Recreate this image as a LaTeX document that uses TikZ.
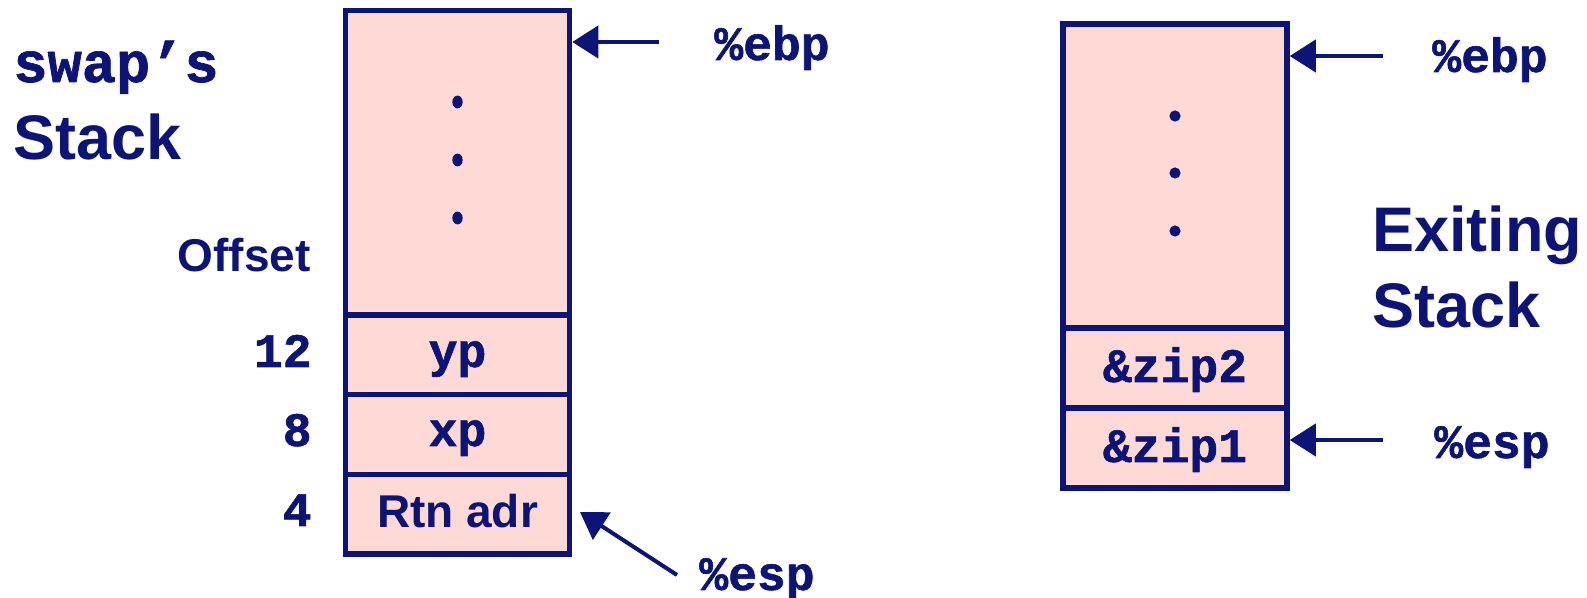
\documentclass[tikz,border=0pt]{standalone}
\usepackage{fontspec}
\setmainfont{Liberation Sans}
\setmonofont{Liberation Mono}[BoldFeatures={FakeBold=1.2}]
\usetikzlibrary{arrows.meta}
\definecolor{navy}{RGB}{12,20,120}
\definecolor{stackpink}{RGB}{255,217,214}
\tikzset{
  cell/.style={draw=navy, fill=stackpink, line width=2.75pt, minimum width=112pt, inner sep=0pt},
  mono/.style={text=navy, font=\ttfamily\bfseries\fontsize{24pt}{24pt}\selectfont, inner sep=0pt},
  monobig/.style={text=navy, font=\ttfamily\bfseries\fontsize{28.5pt}{28.5pt}\selectfont, inner sep=0pt},
  sans/.style={text=navy, font=\bfseries\fontsize{23pt}{23pt}\selectfont, inner sep=0pt},
  title/.style={text=navy, font=\bfseries\fontsize{31.5pt}{31.5pt}\selectfont, inner sep=0pt},
  arr/.style={draw=navy, line width=2pt, -{Triangle[length=13pt,width=16pt]}},
  dot/.style={fill=navy}
}
\begin{document}
\begin{tikzpicture}[x=0.5pt,y=-0.5pt]
\useasboundingbox (0,0) rectangle (1587,598);
% left stack
\node[cell, minimum height=152.15pt] (topL) at (457.5,162.85) {};
\node[cell, minimum height=39.85pt] (yp) at (457.5,354.85) {};
\node[cell, minimum height=39.85pt] (xp) at (457.5,434.55) {};
\node[cell, minimum height=39.85pt] (rtn) at (457.5,514.25) {};
\fill[dot] (457.5,102) ellipse (2.6pt and 3.2pt);
\fill[dot] (457.5,160) ellipse (2.6pt and 3.2pt);
\fill[dot] (457.5,218) ellipse (2.6pt and 3.2pt);
\node[mono, anchor=base] (ypt) at (457.5,367) {yp};
\node[mono, anchor=base] (xpt) at (457.5,446) {xp};
\node[sans, anchor=base] (rtnt) at (457.5,528) {Rtn adr};
% left labels
\node[monobig, anchor=base west] (swap) at (13,82) {swap’s};
\node[title, anchor=base west] (stackL) at (13,160) {Stack};
\node[sans, anchor=base east] (offset) at (311,272) {Offset};
\node[mono, anchor=base east] (o12) at (312,367) {12};
\node[mono, anchor=base east] (o8) at (312,446) {8};
\node[mono, anchor=base east] (o4) at (312,526) {4};
% left pointers
\node[mono, anchor=base] (ebpL) at (772,60) {\%ebp};
\node[mono, anchor=base] (espL) at (757,590) {\%esp};
\coordinate (ebpLs) at (659,42);
\draw[arr] (ebpLs) -- (topL.east |- ebpLs);
\coordinate (espLs) at (677,575);
\coordinate (espLe) at (580,512);
\draw[arr] (espLs) -- (espLe);
% right stack
\node[cell, minimum height=152pt] (topR) at (1175,176) {};
\node[cell, minimum height=40pt] (zip2) at (1175,368) {};
\node[cell, minimum height=40pt] (zip1) at (1175,448) {};
\fill[dot] (1175,116) circle (2.8pt);
\fill[dot] (1175,173) circle (2.8pt);
\fill[dot] (1175,231) circle (2.8pt);
\node[mono, anchor=base] (zip2t) at (1175,382) {\&zip2};
\node[mono, anchor=base] (zip1t) at (1175,462) {\&zip1};
\node[title, anchor=base west] (exiting) at (1372,252) {Exiting};
\node[title, anchor=base west] (stackR) at (1372,328) {Stack};
\node[mono, anchor=base] (ebpR) at (1490,72) {\%ebp};
\node[mono, anchor=base] (espR) at (1492,458) {\%esp};
\coordinate (ebpRs) at (1383,56);
\draw[arr] (ebpRs) -- (topR.east |- ebpRs);
\coordinate (espRs) at (1383,440);
\draw[arr] (espRs) -- (zip1.east |- espRs);
\end{tikzpicture}
\end{document}
